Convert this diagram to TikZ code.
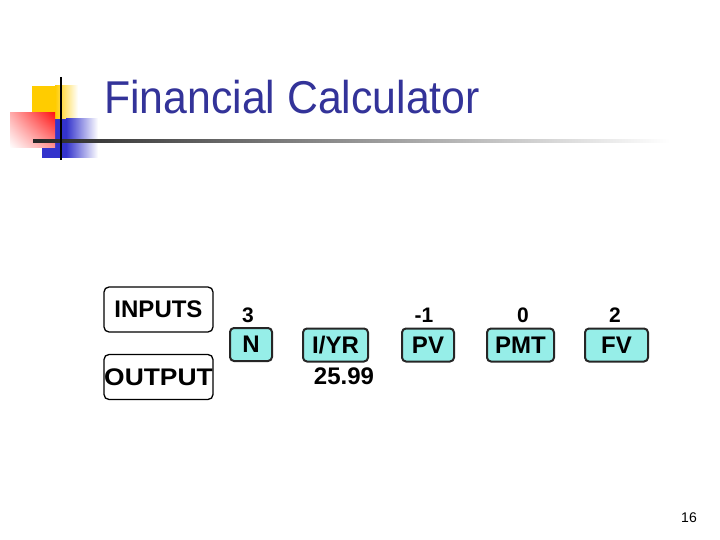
\documentclass[tikz,border=0pt]{standalone}
\usepackage{fontspec}
\usetikzlibrary{shadings}
\setmainfont{Liberation Sans}
\definecolor{titleblue}{RGB}{51,51,153}
\definecolor{keycyan}{RGB}{150,238,232}
\definecolor{decoyellow}{RGB}{255,204,0}
\definecolor{decoblue}{RGB}{51,51,204}
\definecolor{decored}{RGB}{255,20,20}
\begin{document}
\begin{tikzpicture}[x=1pt,y=-1pt,
  labelbox/.style={draw=black, line width=1.3pt, rounded corners=5pt, inner sep=0pt,
    minimum width=109pt, minimum height=45pt, font=\bfseries\fontsize{24}{24}\selectfont},
  keybox/.style={draw=black!85, fill=keycyan, line width=2pt, rounded corners=4pt, inner sep=0pt,
    minimum height=33pt, font=\bfseries\fontsize{24}{24}\selectfont},
  numtext/.style={anchor=base, inner sep=0pt, font=\bfseries\fontsize{21}{21}\selectfont},
  restext/.style={anchor=base, inner sep=0pt, font=\bfseries\fontsize{24}{24}\selectfont}]
\useasboundingbox (0,0) rectangle (720,540);
\fill[white] (0,0) rectangle (720,540);
% decoration
\fill[decoyellow] (32,86) rectangle (55,120);
\shade[left color=decoyellow, right color=white] (55,86) rectangle (78,120);
\fill[decoblue] (42,119) rectangle (66,158);
\shade[left color=decoblue, right color=white] (66,119) rectangle (98,158);
\shade[upper right=decored, upper left=decored!35, lower right=decored!45, lower left=white]
  (10,113) rectangle (55,148);
\shade[left color=black!85, right color=white] (33,139.5) rectangle (670,142.5);
\draw[black, line width=2pt] (61,77) -- (61,160);
% title
\node[anchor=base west, inner sep=0pt, text=titleblue, font=\fontsize{46}{46}\selectfont] (title) at (104,114) {\scalebox{0.93}[1]{Financial Calculator}};
% labels
\node[labelbox] (inputs) at (158.5,309.5) {INPUTS};
\node[labelbox] (output) at (158.5,377) {\scalebox{1.1}[1]{OUTPUT}};
% keys
\node[keybox, minimum width=42pt] (N) at (251,344.5) {N};
\node[keybox, minimum width=65pt] (IYR) at (335.5,345) {I/YR};
\node[keybox, minimum width=52pt] (PV) at (428,345) {PV};
\node[keybox, minimum width=67pt] (PMT) at (520.5,345) {PMT};
\node[keybox, minimum width=63pt] (FV) at (616.5,345) {FV};
% numbers
\node[numtext] (n3) at (248,322) {3};
\node[numtext] (pv1) at (424,322) {-1};
\node[numtext] (pmt0) at (523,322) {0};
\node[numtext] (fv2) at (615,322) {2};
\node[restext] (res) at (344,384) {25.99};
% page number
\node[anchor=base, inner sep=0pt, font=\fontsize{14}{14}\selectfont] (page) at (689,522) {16};
\end{tikzpicture}
\end{document}
